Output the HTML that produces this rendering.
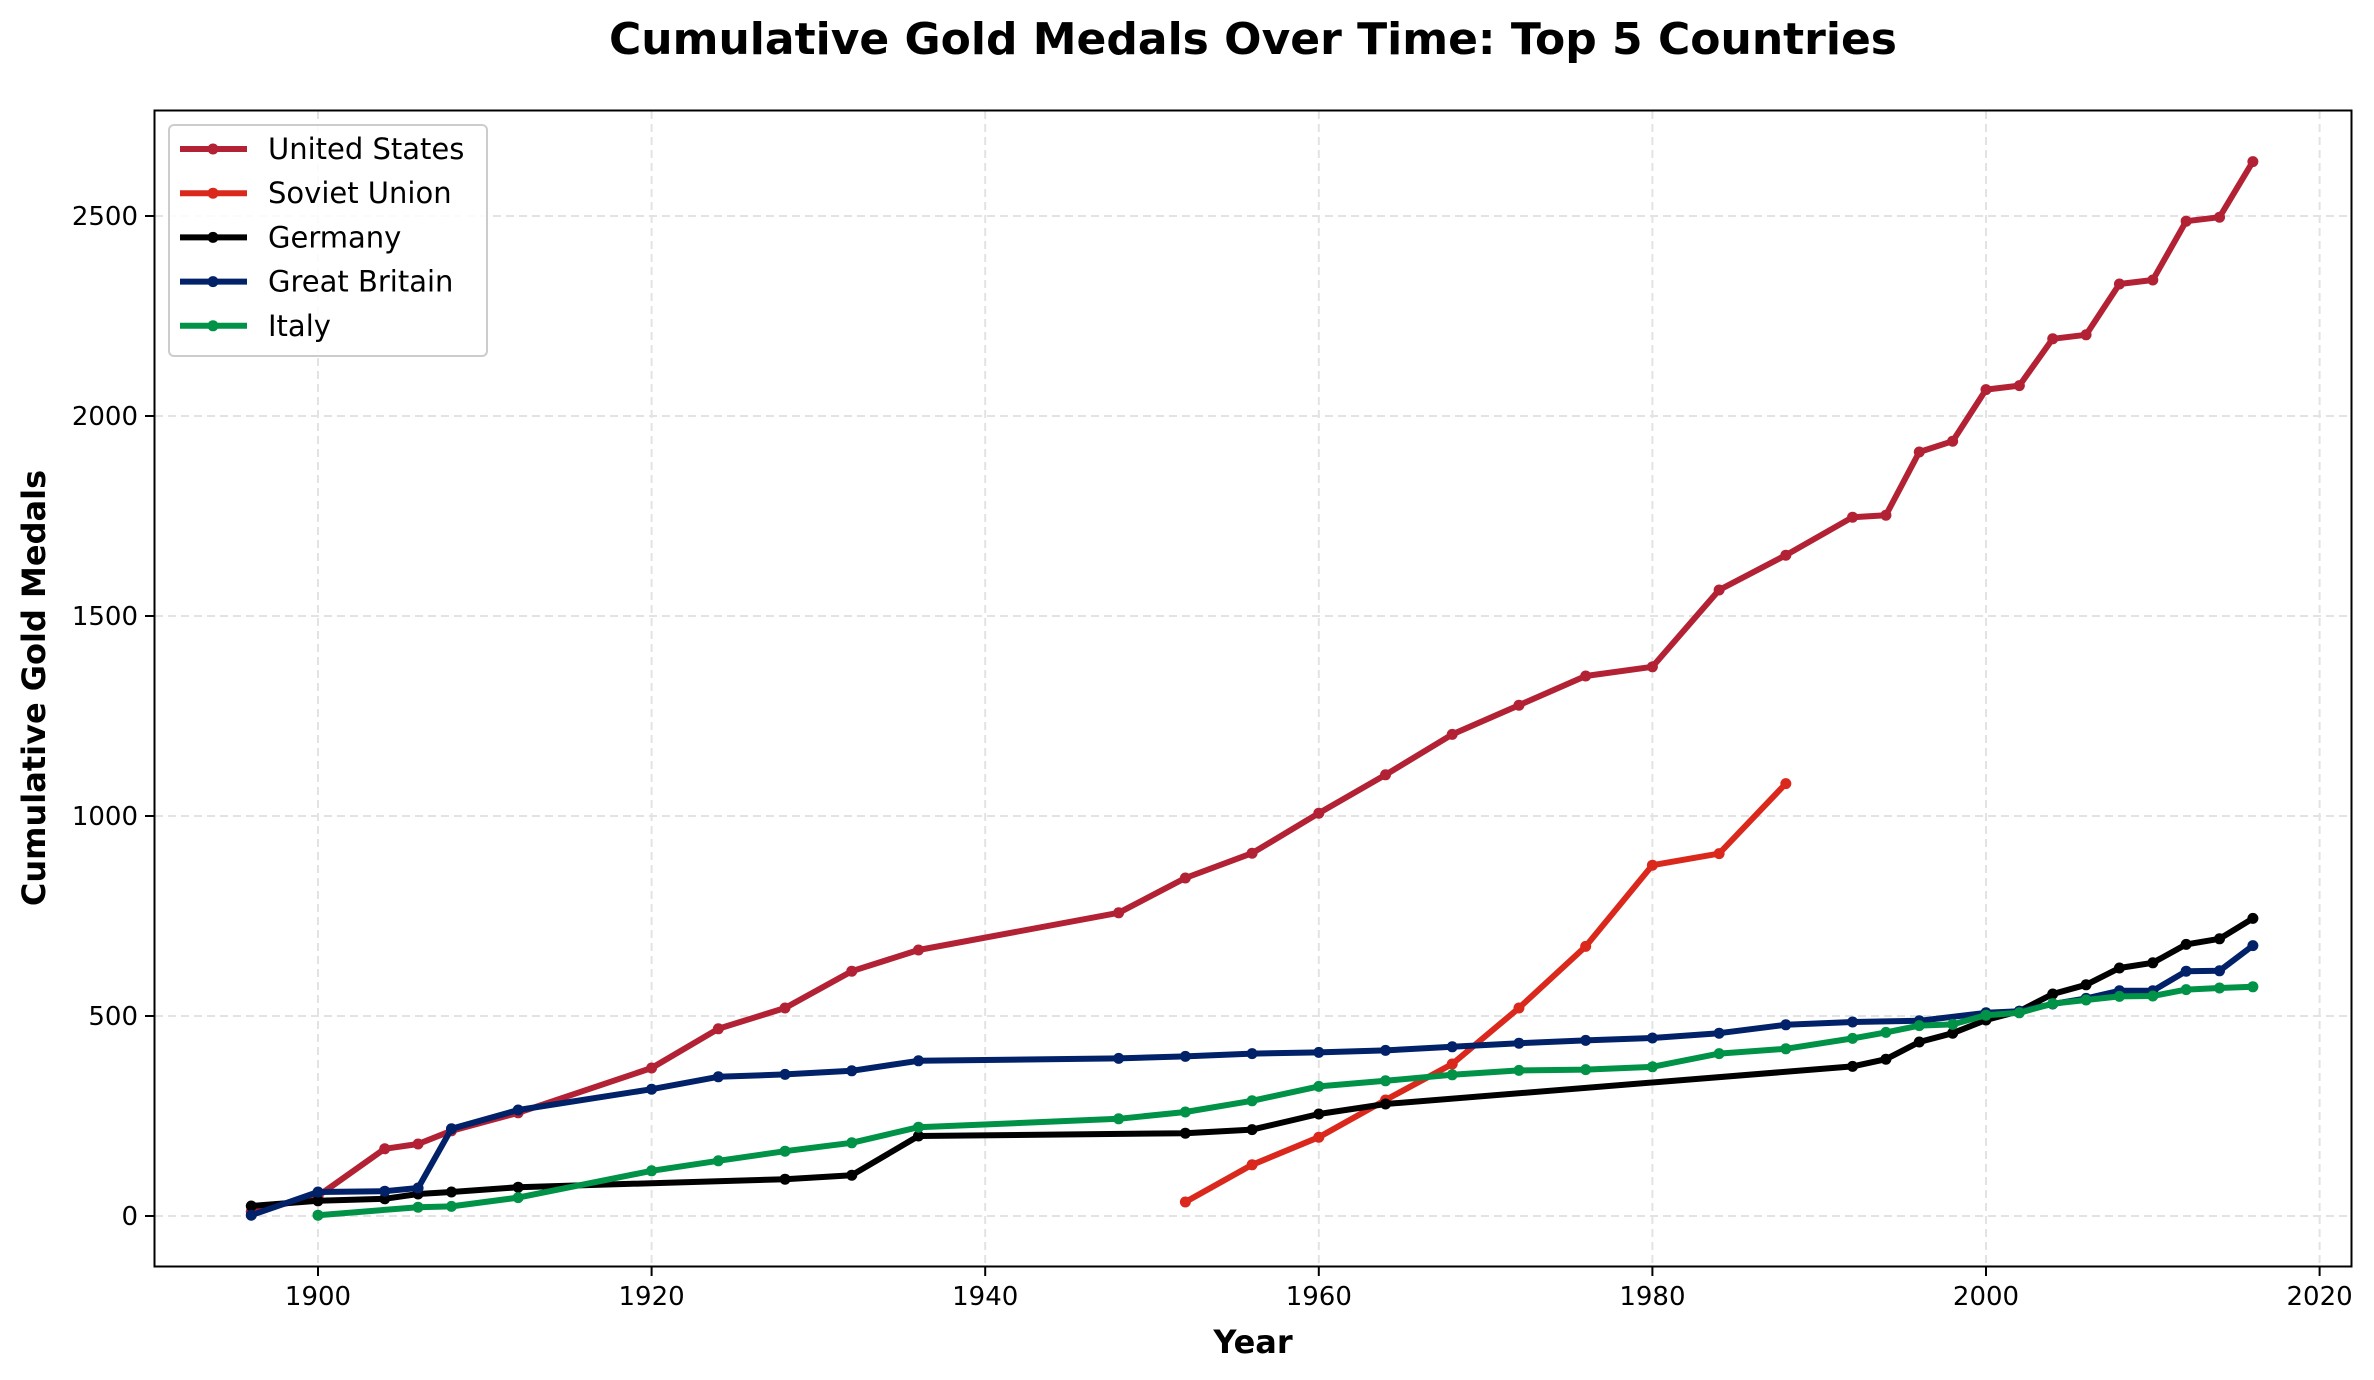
<!DOCTYPE html>
<html><head><meta charset="utf-8"><style>
body{margin:0;background:#fff;}
svg{display:block;font-family:"DejaVu Sans","Liberation Sans",sans-serif;}
</style></head><body>
<svg id="s" width="2374" height="1380" xmlns="http://www.w3.org/2000/svg">
<rect width="2374" height="1380" fill="#fff"/>
<text x="1253" y="54" font-size="44" font-weight="bold" text-anchor="middle">Cumulative Gold Medals Over Time: Top 5 Countries</text>
<g id="grid"></g>
<g id="series"></g>
<rect x="154.5" y="110.5" width="2197" height="1156" fill="none" stroke="#000" stroke-width="2"/>
<g id="ticks"></g>
<text x="1253" y="1353" font-size="32" font-weight="bold" text-anchor="middle">Year</text>
<text transform="translate(45,688) rotate(-90)" font-size="32" font-weight="bold" text-anchor="middle">Cumulative Gold Medals</text>
<g id="legend">
<rect x="169" y="125" width="318" height="231" rx="5" fill="#fff" fill-opacity="0.85" stroke="#ccc" stroke-width="2"/>
</g>
</svg>
<script>
const X=y=>1986+(y-2000)*16.68, Y=v=>1216-0.4*v;
const NS="http://www.w3.org/2000/svg";
function el(p,t,a,txt){const e=document.createElementNS(NS,t);for(const k in a)e.setAttribute(k,a[k]);if(txt!==undefined)e.textContent=txt;document.getElementById(p).appendChild(e);return e;}
for(let yr=1900;yr<=2020;yr+=20){const x=X(yr);
 el("grid","line",{x1:x,x2:x,y1:111,y2:1266,stroke:"#e3e3e3","stroke-width":2,"stroke-dasharray":"8,5"});
 el("ticks","line",{x1:x,x2:x,y1:1267,y2:1276,stroke:"#000","stroke-width":2});
 el("ticks","text",{x:x,y:1305,"font-size":26,"text-anchor":"middle"},yr);}
for(let v=0;v<=2500;v+=500){const y=Y(v);
 el("grid","line",{x1:155,x2:2351,y1:y,y2:y,stroke:"#e3e3e3","stroke-width":2,"stroke-dasharray":"8,5"});
 el("ticks","line",{x1:145,x2:154,y1:y,y2:y,stroke:"#000","stroke-width":2});
 el("ticks","text",{x:138,y:y+9,"font-size":26,"text-anchor":"end"},v);}
const D=[
["United States","#B22234",[[1896,11],[1900,50],[1904,168],[1906,180],[1908,213],[1912,258],[1920,370],[1924,468],[1928,520],[1932,612],[1936,665],[1948,758],[1952,845],[1956,907],[1960,1007],[1964,1103],[1968,1204],[1972,1277],[1976,1350],[1980,1373],[1984,1565],[1988,1652],[1992,1747],[1994,1752],[1996,1910],[1998,1937],[2000,2066],[2002,2076],[2004,2193],[2006,2203],[2008,2330],[2010,2340],[2012,2487],[2014,2497],[2016,2636]]],
["Soviet Union","#DA291C",[[1952,35],[1956,128],[1960,197],[1964,290],[1968,380],[1972,520],[1976,674],[1980,877],[1984,906],[1988,1081]]],
["Germany","#000000",[[1896,25],[1900,38],[1904,43],[1906,55],[1908,60],[1912,72],[1928,92],[1932,102],[1936,200],[1952,207],[1956,216],[1960,255],[1964,280],[1992,374],[1994,392],[1996,435],[1998,457],[2000,490],[2002,512],[2004,555],[2006,578],[2008,620],[2010,633],[2012,679],[2014,693],[2016,744]]],
["Great Britain","#012169",[[1896,2],[1900,60],[1904,62],[1906,70],[1908,218],[1912,265],[1920,317],[1924,348],[1928,354],[1932,363],[1936,388],[1948,394],[1952,399],[1956,406],[1960,409],[1964,414],[1968,423],[1972,432],[1976,439],[1980,445],[1984,457],[1988,478],[1992,485],[1996,488],[2000,508],[2002,512],[2004,530],[2006,544],[2008,563],[2010,563],[2012,612],[2014,613],[2016,676]]],
["Italy","#009246",[[1900,2],[1906,22],[1908,24],[1912,46],[1920,113],[1924,138],[1928,162],[1932,183],[1936,222],[1948,243],[1952,260],[1956,288],[1960,324],[1964,338],[1968,353],[1972,364],[1976,366],[1980,373],[1984,406],[1988,418],[1992,444],[1994,459],[1996,476],[1998,479],[2000,502],[2002,508],[2004,531],[2006,540],[2008,549],[2010,550],[2012,566],[2014,570],[2016,573]]]];
D.forEach(([n,c,p],i)=>{
 el("series","polyline",{points:p.map(q=>X(q[0])+","+Y(q[1])).join(" "),fill:"none",stroke:c,"stroke-width":6,"stroke-linejoin":"round"});
 p.forEach(q=>el("series","circle",{cx:X(q[0]),cy:Y(q[1]),r:5.5,fill:c}));
 const ly=149+i*44.2;
 el("legend","line",{x1:180,x2:247,y1:ly,y2:ly,stroke:c,"stroke-width":6});
 el("legend","circle",{cx:213,cy:ly,r:5.5,fill:c});
 el("legend","text",{x:268,y:ly+10,"font-size":29},n);
});
</script>
</body></html>
